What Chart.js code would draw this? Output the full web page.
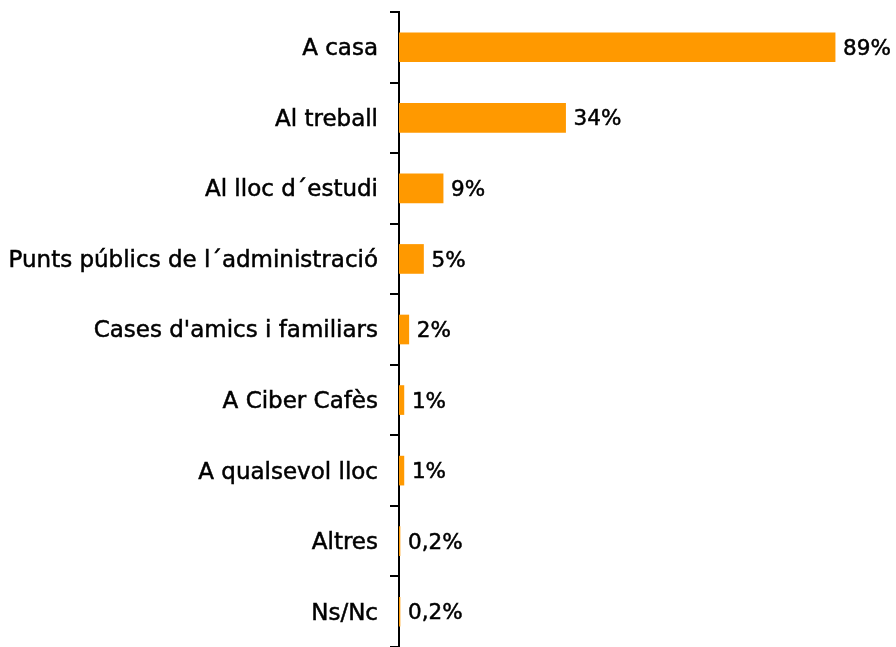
<!DOCTYPE html>
<html lang="ca">
<head>
  <meta charset="UTF-8">
  <title>Lloc d'accés a Internet</title>
  <script src="https://cdn.jsdelivr.net/npm/chart.js"></script>
  <style>
    body {
      margin: 0;
      padding: 0;
      background: #fff;
    }
    .chart-container {
      width: 896px;
      height: 647px;
      position: relative;
    }
  </style>
</head>
<body>
  <div class="chart-container">
    <canvas id="chart"></canvas>
  </div>

  <script>
    const categories = [
      'A casa', 'Al treball', 'Al lloc d´estudi', 'Punts públics de l´administració',
      "Cases d'amics i familiars", 'A Ciber Cafès', 'A qualsevol lloc', 'Altres', 'Ns/Nc'
    ];
    const values = [89, 34, 9, 5, 2, 1, 1, 0.2, 0.2];
    const valueLabels = ['89%', '34%', '9%', '5%', '2%', '1%', '1%', '0,2%', '0,2%'];

    const fontFamily = '"DejaVu Sans", Verdana, sans-serif';

    // etiquetes de valor a la dreta de cada barra
    const valueLabelPlugin = {
      id: 'valueLabels',
      afterDatasetsDraw(chart) {
        const ctx = chart.ctx;
        const meta = chart.getDatasetMeta(0);
        ctx.save();
        ctx.font = '21.5px ' + fontFamily;
        ctx.fillStyle = '#000';
        ctx.strokeStyle = '#000';
        ctx.lineWidth = 0.5;
        ctx.textAlign = 'left';
        ctx.textBaseline = 'middle';
        meta.data.forEach((bar, i) => {
          ctx.fillText(valueLabels[i], bar.x + 8, bar.y + 2);
          ctx.strokeText(valueLabels[i], bar.x + 8, bar.y + 2);
        });
        ctx.restore();
      }
    };

    new Chart(document.getElementById('chart').getContext('2d'), {
      type: 'bar',
      data: {
        labels: categories,
        datasets: [{
          data: values,
          backgroundColor: '#FF9900',
          borderWidth: 0,
          barThickness: 29
        }]
      },
      options: {
        indexAxis: 'y',
        responsive: true,
        maintainAspectRatio: false,
        animation: false,
        layout: {
          padding: { top: 12, right: 7, bottom: 0, left: 0 }
        },
        scales: {
          x: {
            display: false,
            min: 0,
            max: 100
          },
          y: {
            afterFit(scale) {
              scale.width = 399;
              scale.paddingTop = 0;
              scale.paddingBottom = 0;
            },
            border: {
              display: true,
              color: '#000',
              width: 2
            },
            grid: {
              drawOnChartArea: false,
              drawTicks: true,
              tickLength: 9,
              color: '#000',
              lineWidth: 2
            },
            ticks: {
              color: '#000',
              padding: 12,
              labelOffset: 2,
              textStrokeColor: '#000',
              textStrokeWidth: 0.5,
              font: { family: fontFamily, size: 23 }
            }
          }
        },
        plugins: {
          legend: { display: false },
          tooltip: { enabled: false }
        }
      },
      plugins: [valueLabelPlugin]
    });
  </script>
</body>
</html>
